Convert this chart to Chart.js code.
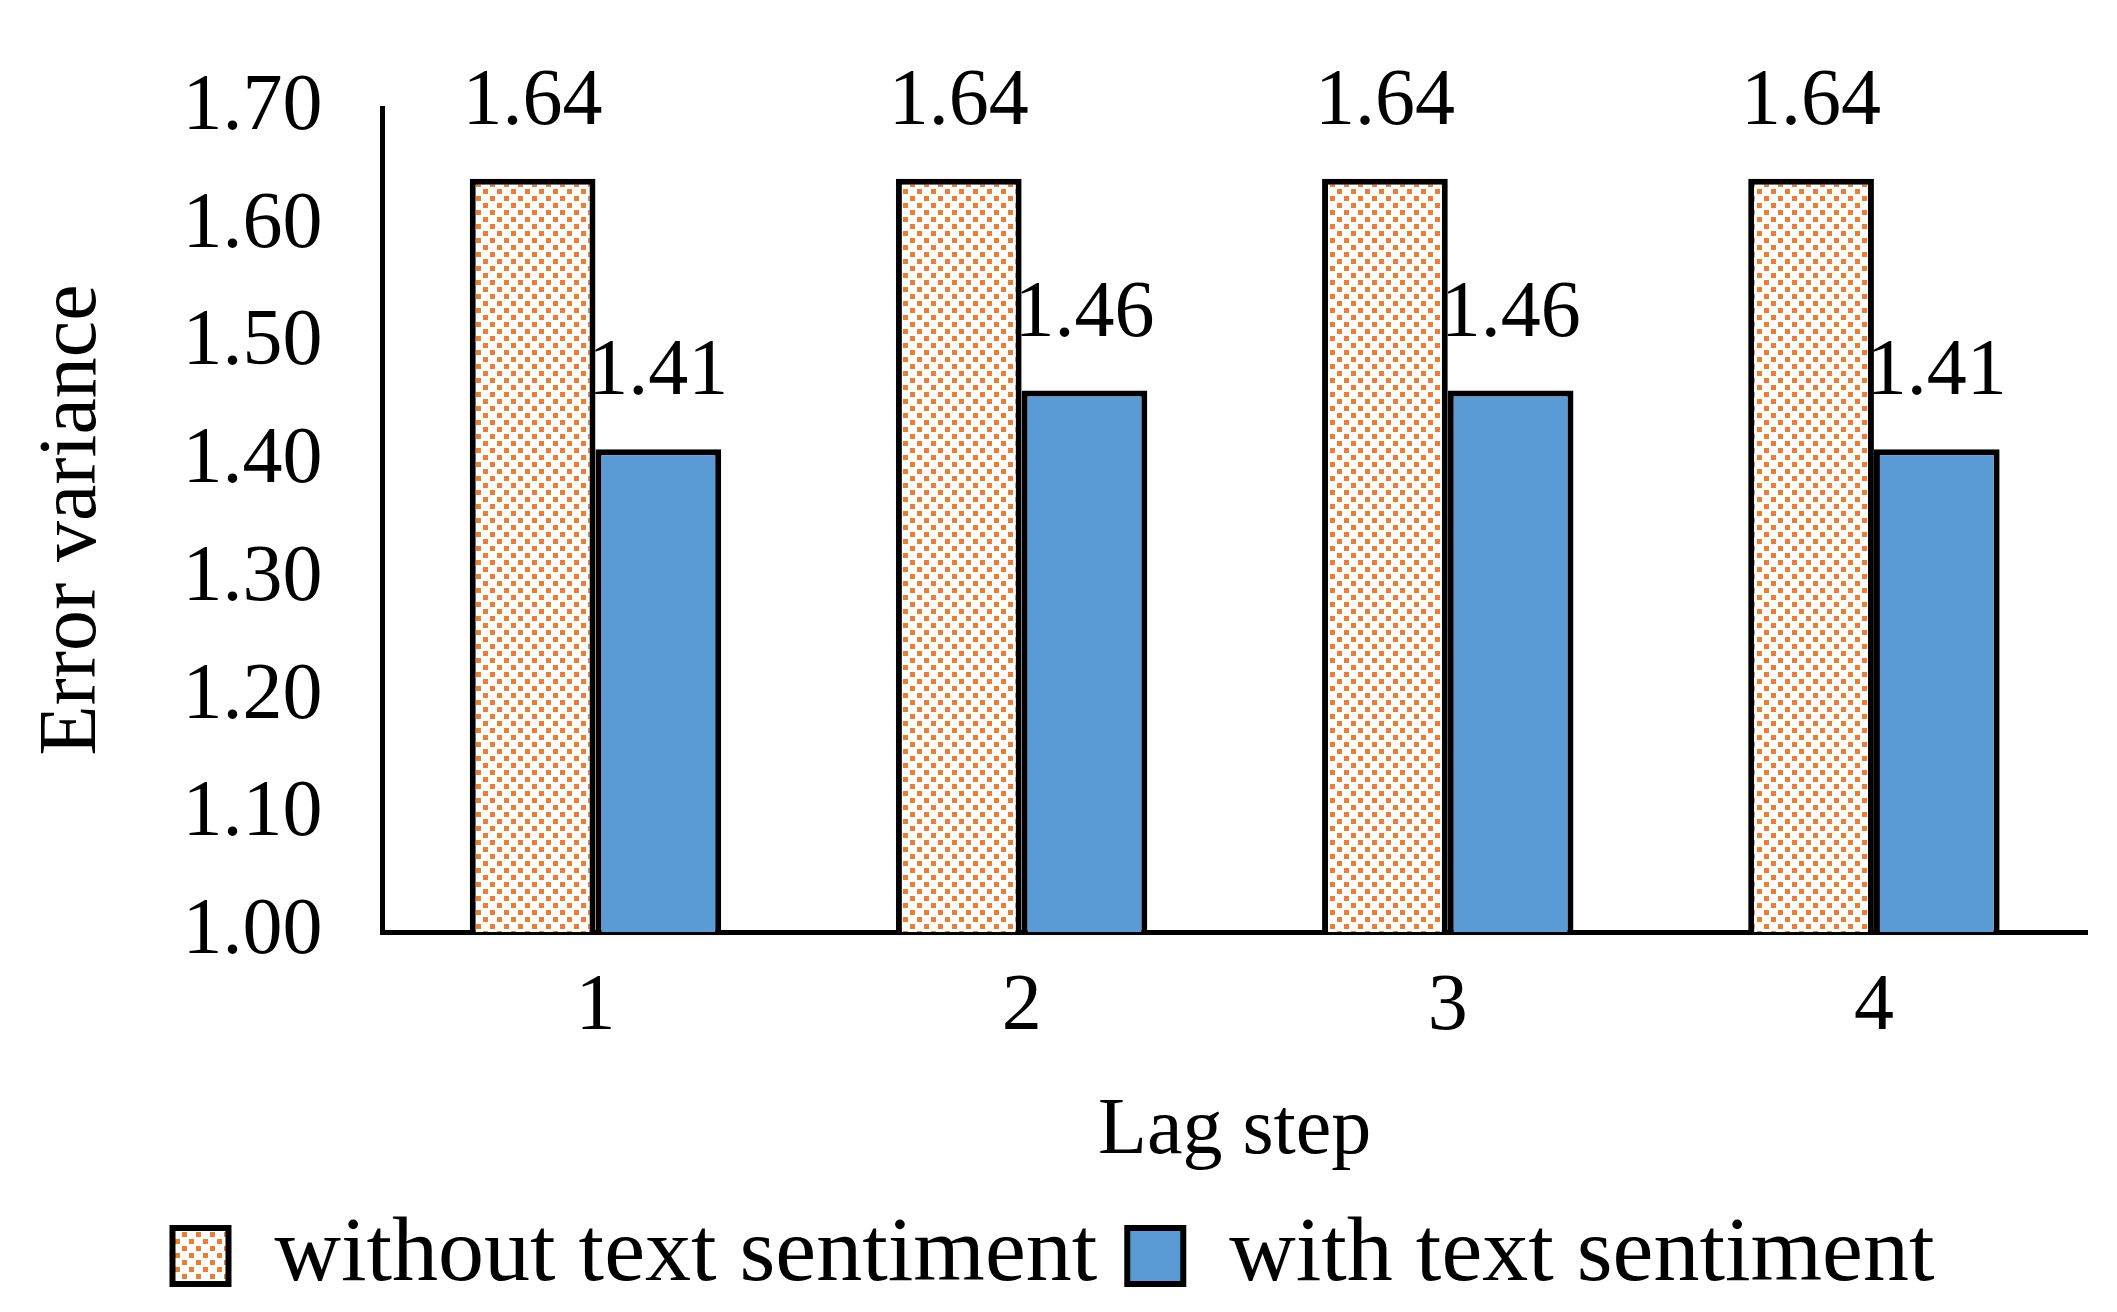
<!DOCTYPE html>
<html>
<head>
<meta charset="utf-8">
<script src="https://cdn.jsdelivr.net/npm/chart.js@4"></script>
<style>
  html, body { margin: 0; padding: 0; background: #fff; }
  #wrap { width: 2117px; height: 1312px; }
</style>
</head>
<body>
<div id="wrap"><canvas id="chart" width="2117" height="1312"></canvas></div>
<script>
var lagSteps = ['1', '2', '3', '4'];
var withoutSentiment = [1.64, 1.64, 1.64, 1.64];
var withSentiment = [1.41, 1.46, 1.46, 1.41];
var yTicks = [1.00, 1.10, 1.20, 1.30, 1.40, 1.50, 1.60, 1.70];

var FONT = '"Liberation Serif", "Times New Roman", serif';

// orange checker pattern used by the "without" series
function makePattern() {
    var c = document.createElement('canvas');
    c.width = 14; c.height = 14;
    var g = c.getContext('2d');
    g.fillStyle = '#fff';
    g.fillRect(0, 0, 14, 14);
    g.fillStyle = '#ed7d31';
    g.fillRect(0, 0, 5, 5);
    g.fillRect(7, 7, 5, 5);
    return document.getElementById('chart').getContext('2d').createPattern(c, 'repeat');
}

var valueLabels = {
    id: 'valueLabels',
    afterDatasetsDraw: function(chart) {
        var ctx = chart.ctx;
        ctx.save();
        ctx.font = '80px ' + FONT;
        ctx.fillStyle = '#000';
        ctx.textAlign = 'center';
        ctx.textBaseline = 'bottom';
        chart.data.datasets.forEach(function(ds, i) {
            chart.getDatasetMeta(i).data.forEach(function(bar, j) {
                ctx.fillText(ds.data[j].toFixed(2), bar.x, bar.y - 36);
            });
        });
        ctx.restore();
    }
};

var chart = new Chart(document.getElementById('chart'), {
    type: 'bar',
    data: {
        labels: lagSteps,
        datasets: [{
            label: 'without text sentiment',
            data: withoutSentiment,
            backgroundColor: makePattern(),
            borderColor: '#000',
            borderWidth: 6,
            borderSkipped: 'bottom'
        }, {
            label: 'with text sentiment',
            data: withSentiment,
            backgroundColor: '#5b9bd5',
            borderColor: '#000',
            borderWidth: 6,
            borderSkipped: 'bottom'
        }]
    },
    options: {
        responsive: false,
        animation: false,
        layout: { padding: { left: 20, right: 30, top: 50, bottom: 0 } },
        categoryPercentage: 0.59,
        barPercentage: 1.0,
        scales: {
            x: {
                grid: { display: false, drawTicks: false },
                border: { color: '#000', width: 5 },
                ticks: { color: '#000', font: { family: FONT, size: 80 }, padding: 28 },
                title: { display: true, text: 'Lag step', color: '#000', font: { family: FONT, size: 80 }, padding: { top: 0, bottom: 0 } }
            },
            y: {
                min: 1.0,
                max: 1.7,
                afterBuildTicks: function(axis) {
                    axis.ticks = yTicks.map(function(v) { return {value: v}; });
                },
                grid: { display: false, drawTicks: false },
                border: { color: '#000', width: 5 },
                ticks: {
                    color: '#000',
                    font: { family: FONT, size: 80 },
                    padding: 60,
                    callback: function(v) { return Number(v).toFixed(2); }
                },
                title: { display: true, text: 'Error variance', color: '#000', font: { family: FONT, size: 82 }, padding: { bottom: 0 } }
            }
        },
        plugins: {
            legend: {
                position: 'bottom',
                labels: {
                    color: '#000',
                    font: { family: FONT, size: 92 },
                    boxWidth: 56,
                    boxHeight: 56,
                    padding: 30
                }
            },
            tooltip: { enabled: false }
        }
    },
    plugins: [valueLabels]
});
</script>
</body>
</html>
